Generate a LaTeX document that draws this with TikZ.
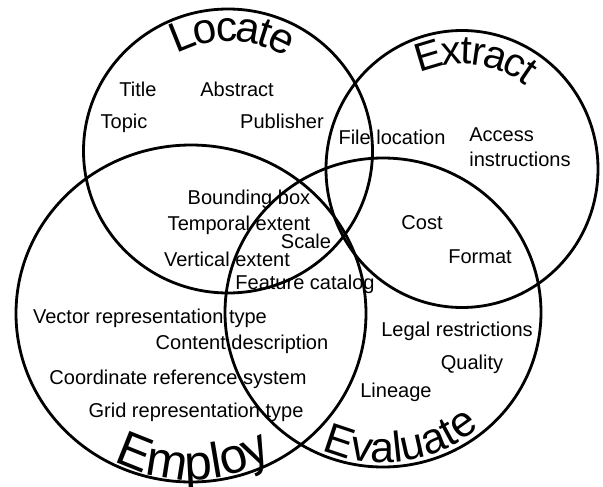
\documentclass[tikz,border=0pt]{standalone}
\usepackage{fontspec}
\setmainfont{Liberation Sans}
\usetikzlibrary{decorations.text}
\newcommand{\itemfont}{\fontsize{11.4}{14.2}\selectfont}

\begin{document}
\begin{tikzpicture}[
  x=0.02cm, y=-0.02cm,
  ring/.style={draw, line width=1.6pt},
  item/.style={font=\itemfont, inner sep=0pt, text height=0.7em, text depth=0pt},
  phase/.style 2 args={decorate, decoration={text along path, text align=center, raise=#2, text={#1}}}
]
\useasboundingbox (0,0) rectangle (603,487);

% Circle centres
\coordinate (locate-c) at (228,151);
\coordinate (extract-c) at (462,169);
\coordinate (employ-c) at (191,313.5);
\coordinate (evaluate-c) at (383,312.5);

% The four circles
\draw[ring] (locate-c) ellipse [x radius=144.5, y radius=142];
\draw[ring] (extract-c) ellipse [x radius=136, y radius=138.5];
\draw[ring] (employ-c) ellipse [x radius=175, y radius=168.5];
\draw[ring] (evaluate-c) ellipse [x radius=158, y radius=154.5];

% Curved phase names
\path[phase={|\fontsize{24.2}{24.2}\selectfont|Locate}{-8.65pt}] (locate-c) ++(-158:125.2) arc[start angle=-158, end angle=-18, radius=125.2];
\path[phase={|\fontsize{22.9}{22.9}\selectfont|Extract}{-8.2pt}] (extract-c) ++(-153:119.4) arc[start angle=-153, end angle=-13, radius=119.4];
\path[phase={|\fontsize{28.2}{28.2}\selectfont|Employ}{0pt}] (employ-c) ++(149:166) arc[start angle=149, end angle=29, radius=166];
\path[phase={|\fontsize{24.5}{24.5}\selectfont|Evaluate}{0pt}] (evaluate-c) ++(147:150) arc[start angle=147, end angle=17, radius=150];

% Locate only
\node[item] (title) at (138,90) {Title};
\node[item] (abstract) at (237,90) {Abstract};
\node[item] (topic) at (124,122) {Topic};
\node[item] (publisher) at (282,122) {Publisher};

% Extract
\node[item] (file-loc) at (392,138) {File location};
\node[item, align=left, anchor=west, text height=, text depth=] (access) at (469,147) {Access\\instructions};

% Locate and Employ
\node[item] (bbox) at (249,198) {Bounding box};
\node[item] (temporal) at (239,224) {Temporal extent};
\node[item] (scale) at (306,242) {Scale};
\node[item] (vertical) at (227,260) {Vertical extent};
\node[item] (feature) at (305,283) {Feature catalog};

% Extract and Evaluate
\node[item] (cost) at (422,223) {Cost};
\node[item] (format) at (480,257) {Format};

% Employ
\node[item] (vector) at (150,317) {Vector representation type};
\node[item] (content) at (242,343) {Content description};
\node[item] (crs) at (178,378) {Coordinate reference system};
\node[item] (grid) at (196,411) {Grid representation type};

% Evaluate
\node[item] (legal) at (457,330) {Legal restrictions};
\node[item] (quality) at (472,363) {Quality};
\node[item] (lineage) at (396,391) {Lineage};
\end{tikzpicture}
\end{document}
